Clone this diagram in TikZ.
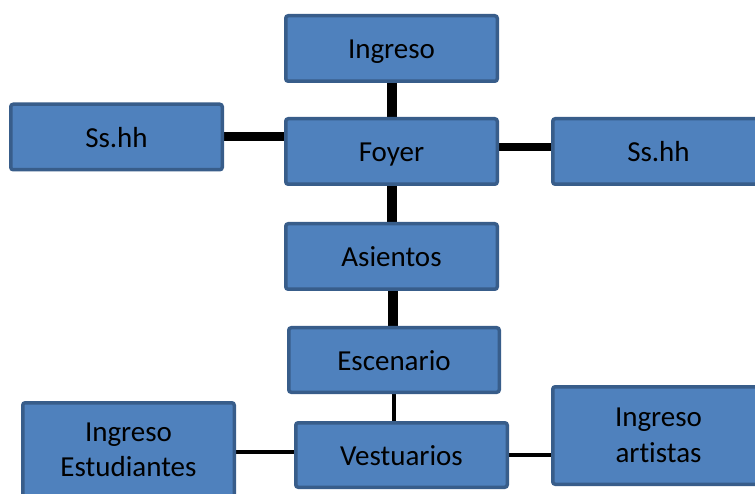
\documentclass[tikz,border=0pt]{standalone}
\usepackage{fontspec}
\setmainfont{Carlito}[Ligatures={NoCommon}]
\usetikzlibrary{backgrounds}
\definecolor{boxfill}{HTML}{4F81BD}
\definecolor{boxline}{HTML}{385D8A}
\tikzset{
  room/.style={draw=boxline, fill=boxfill, line width=3.5pt, rounded corners=2.5pt,
    minimum width=211.5pt, minimum height=65.5pt, inner sep=0pt,
    font=\fontsize{29}{35.5}\selectfont, text=black, align=center},
  oneline/.style={text height=21pt, text depth=0pt},
  thick link/.style={draw=black, line width=10pt},
  thin link/.style={draw=black, line width=3.5pt}
}
\begin{document}
\begin{tikzpicture}[x=1pt,y=-1pt]
\useasboundingbox (0,0) rectangle (755,494);
\node[room,oneline] (ingreso) at (391.5,48.5) {Ingreso};
\node[room,oneline] (ssl) at (116.5,137) {Ss.hh};
\node[room,oneline] (foyer) at (391.5,151.5) {Foyer};
\node[room,oneline] (ssr) at (658.5,151.5) {Ss.hh};
\node[room,oneline] (asientos) at (391.5,256.5) {Asientos};
\node[room,oneline,minimum width=210.5pt,minimum height=64.5pt] (escenario) at (394,360) {Escenario};
\node[room,oneline,minimum height=64.5pt] (vestuarios) at (401.5,455) {Vestuarios};
\node[room,minimum height=94.5pt] (estudiantes) at (128.5,450) {Ingreso\\Estudiantes};
\node[room,minimum height=97.5pt] (artistas) at (658.5,435.5) {Ingreso\\artistas};
\begin{scope}[on background layer]
\fill[white] (0,0) rectangle (755,494);
\draw[thick link] (ingreso.south) -- (foyer.north);
\draw[thick link] (foyer.south) -- (asientos.north);
\draw[thick link] ([xshift=1.5pt]asientos.south) -- ([xshift=1.5pt]asientos.south |- escenario.north);
\draw[thick link, line width=9pt] (ssl.east) -- (ssl.east -| foyer.west);
\draw[thick link, line width=8pt] ([yshift=4.5pt]foyer.east) -- ([yshift=4.5pt]foyer.east -| ssr.west);
\draw[thin link] (escenario.south) -- (escenario.south |- vestuarios.north);
\draw[thin link] ([yshift=3pt]vestuarios.west) -- ([yshift=3pt]vestuarios.west -| estudiantes.east);
\draw[thin link] (vestuarios.east) -- (vestuarios.east -| artistas.west);
\end{scope}
\end{tikzpicture}
\end{document}
